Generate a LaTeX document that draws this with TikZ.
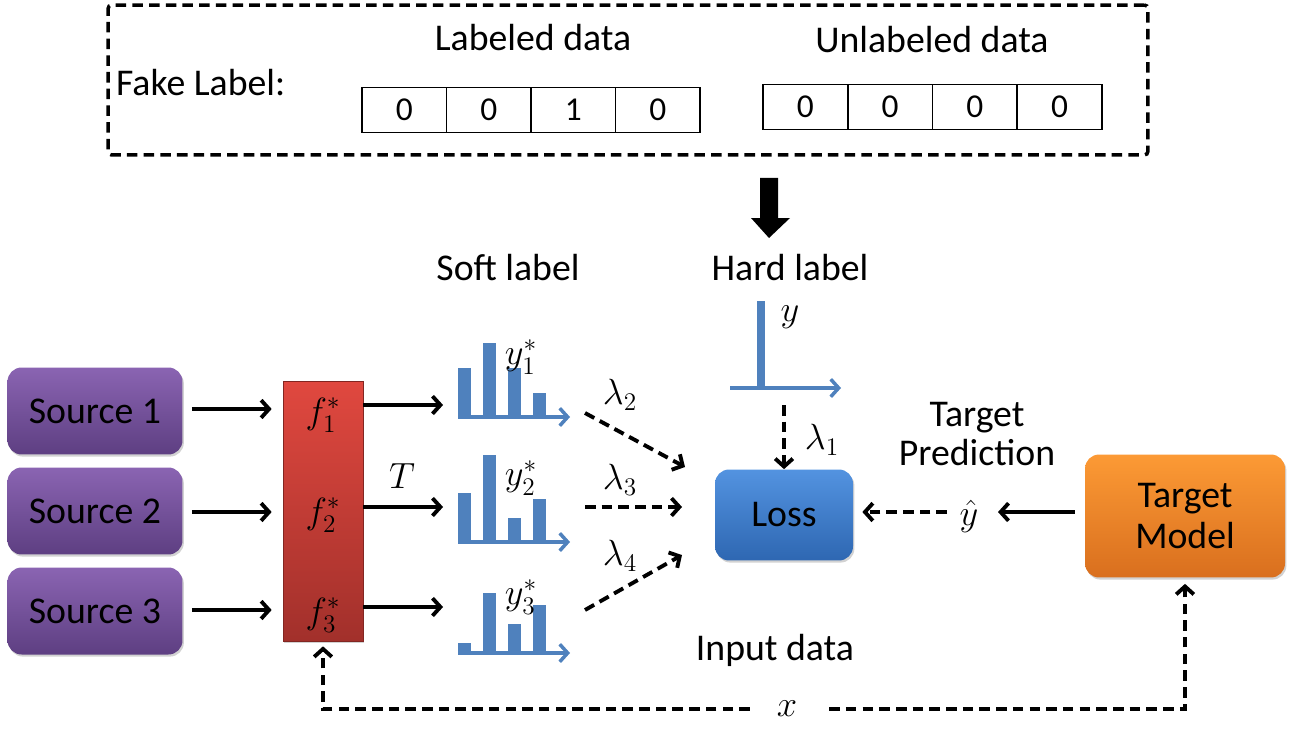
\documentclass[tikz,border=0pt]{standalone}
\usepackage{amsmath,amssymb}
\usepackage{fontspec}
\setmainfont{Carlito}
\usepackage{xcolor}
\usetikzlibrary{positioning,arrows.meta,shadows,calc}

\definecolor{srctop}{HTML}{8A64B2}
\definecolor{srcbot}{HTML}{5E3F82}
\definecolor{redtop}{HTML}{E0483F}
\definecolor{redbot}{HTML}{A2302B}
\definecolor{losstop}{HTML}{5393E0}
\definecolor{lossbot}{HTML}{2E67B2}
\definecolor{tgttop}{HTML}{FC9A35}
\definecolor{tgtbot}{HTML}{D96F1E}
\definecolor{histblue}{HTML}{4F81BD}

\begin{document}
\begin{tikzpicture}[x=0.02cm, y=-0.02cm,
  source/.style={
    rectangle, rounded corners=8pt, top color=srctop, bottom color=srcbot,
    minimum width=3.5cm, minimum height=1.74cm, font=\fontsize{21.5}{25}\selectfont, drop shadow
  },
  model/.style={
    rectangle, rounded corners=8pt, align=center,
    font=\fontsize{21.5}{25}\selectfont, drop shadow
  },
  cell/.style={
    rectangle, draw=black, line width=0.8pt, inner sep=0pt,
    minimum width=1.69cm, minimum height=0.9cm, font=\fontsize{19}{21}\selectfont
  },
  txt/.style={
    font=\fontsize{21.5}{25}\selectfont, inner sep=1pt
  },
  lbl/.style={
    font=\fontsize{22}{26}\selectfont, inner sep=1pt
  },
  edge/.style={
    -{Straight Barb[length=4.5pt,width=10pt]}, line width=2.2pt, color=black
  },
  dashededge/.style={
    edge, dash pattern=on 6pt off 3.5pt
  },
  hist/.style={
    line width=2pt, color=histblue, -{Straight Barb[length=4.5pt,width=10pt]}
  },
  every shadow/.style={
    shadow xshift=0.8pt,
    shadow yshift=-1.2pt,
    fill=black!35
  }
]
\useasboundingbox (0,0) rectangle (1293,743);

% Fake label box
\node[draw=black, line width=2pt, dash pattern=on 6pt off 3.5pt, rounded corners=2pt,
  minimum width=20.8cm, minimum height=3cm] (fakebox) at (628,80) {};
\node[txt, anchor=west] (fake) at (114,83) {Fake Label:};
\node[txt] (labeled) at (533,38) {Labeled data};
\node[txt] (unlabeled) at (932,40) {Unlabeled data};
\foreach \v [count=\i] in {0,0,1,0}
  \node[cell] (l\i) at ({362+84.5*\i-42.25},110) {\v};
\foreach \v [count=\i] in {0,0,0,0}
  \node[cell] (u\i) at ({763+84.75*\i-42.4},107) {\v};

% Big arrow
\fill[black] (760,178) -- (778,178) -- (778,218) -- (790,218) -- (769,238)
  -- (751,218) -- (760,218) -- cycle;

% Nodes
\node[source] (src1) at (95,411) {Source 1};
\node[source] (src2) at (95,511) {Source 2};
\node[source] (src3) at (95,611) {Source 3};

\node[rectangle, top color=redtop, bottom color=redbot, draw=redbot!80!black, line width=0.4pt,
  minimum width=1.6cm, minimum height=5.2cm, drop shadow] (bar) at (323,511) {};
\node[lbl] (f1) at (323,415) {$f_1^*$};
\node[lbl] (f2) at (323,515) {$f_2^*$};
\node[lbl] (f3) at (323,615) {$f_3^*$};

\node[model, top color=losstop, bottom color=lossbot, minimum width=2.76cm, minimum height=1.82cm]
  (loss) at (784,515) {Loss};
\node[model, top color=tgttop, bottom color=tgtbot, minimum width=4cm, minimum height=2.46cm]
  (target) at (1185,516) {Target\\[-2pt]Model};

\node[txt] (soft) at (508,268) {Soft label};
\node[txt] (hard) at (790,268) {Hard label};
\node[txt, align=center] (pred) at (977,434) {Target\\[-3pt]Prediction};
\node[txt] (input) at (775,650) {Input data};

% Soft labels
\foreach \y/\a/\b/\c/\d [count=\k] in {417/368/343/368/393, 542/493/455/518/499, 653/643/593/624/605} {
  \fill[histblue] (458,\y) rectangle (471,\a);
  \fill[histblue] (483,\y) rectangle (496,\b);
  \fill[histblue] (508,\y) rectangle (521,\c);
  \fill[histblue] (533,\y) rectangle (546,\d);
  \coordinate (h\k) at (458,\y);
  \draw[hist] (h\k) -- ++(112,0);
}
\node[lbl] (y1) at (521,357) {$y_1^*$};
\node[lbl] (y2) at (521,478) {$y_2^*$};
\node[lbl] (y3) at (521,597) {$y_3^*$};

% Hard label
\coordinate (hbase) at (730,388);
\fill[histblue] (757,301) rectangle (765,388);
\draw[hist] (hbase) -- ++(111,0);
\node[lbl] (ylab) at (790,317) {$y$};

% Math labels
\node[lbl] (T) at (402,476) {$T$};
\node[lbl] (lam1) at (822,440) {$\lambda_1$};
\node[lbl] (lam2) at (620,395) {$\lambda_2$};
\node[lbl] (lam3) at (620,480) {$\lambda_3$};
\node[lbl] (lam4) at (620,556) {$\lambda_4$};
\node[lbl] (yhat) at (969,516) {$\hat{y}$};
\node[lbl] (xlab) at (787,709) {$x$};

\coordinate (s2) at (585,413);
\coordinate (s3) at (585,507);
\coordinate (s4) at (585,610);
\coordinate (t2) at (685,467);
\coordinate (t3) at (682,507);
\coordinate (t4) at (682,555);
\coordinate (hl) at (784,405);

% Edges
\draw[edge] (src1.east |- 0,409) ++(9,0) -- ($(bar.west |- 0,409)+(-11,0)$);
\draw[edge] (src2.east |- 0,512) ++(9,0) -- ($(bar.west |- 0,512)+(-11,0)$);
\draw[edge] (src3.east |- 0,610) ++(9,0) -- ($(bar.west |- 0,610)+(-11,0)$);

\draw[edge] (bar.east |- 0,405) -- ($(h1)+(-15,-12)$);
\draw[edge] (bar.east |- 0,507) -- ($(h2)+(-15,-35)$);
\draw[edge] (bar.east |- 0,607) -- ($(h3)+(-15,-46)$);

\draw[dashededge] (s2) -- (t2);
\draw[dashededge] (s3) -- (t3);
\draw[dashededge] (s4) -- (t4);
\draw[dashededge] (hl) -- (loss.north);

\draw[edge] ($(target.west)+(-10,-4)$) -- (998,512);
\draw[dashededge] (947,512) -- ($(loss.east)+(9,-3)$);

\draw[dashededge] ($(xlab.west)+(-25,0)$) -| ($(bar.south)+(0,5)$);
\draw[dashededge] ($(xlab.east)+(30,0)$) -| ($(target.south)+(0,6)$);

\end{tikzpicture}
\end{document}
